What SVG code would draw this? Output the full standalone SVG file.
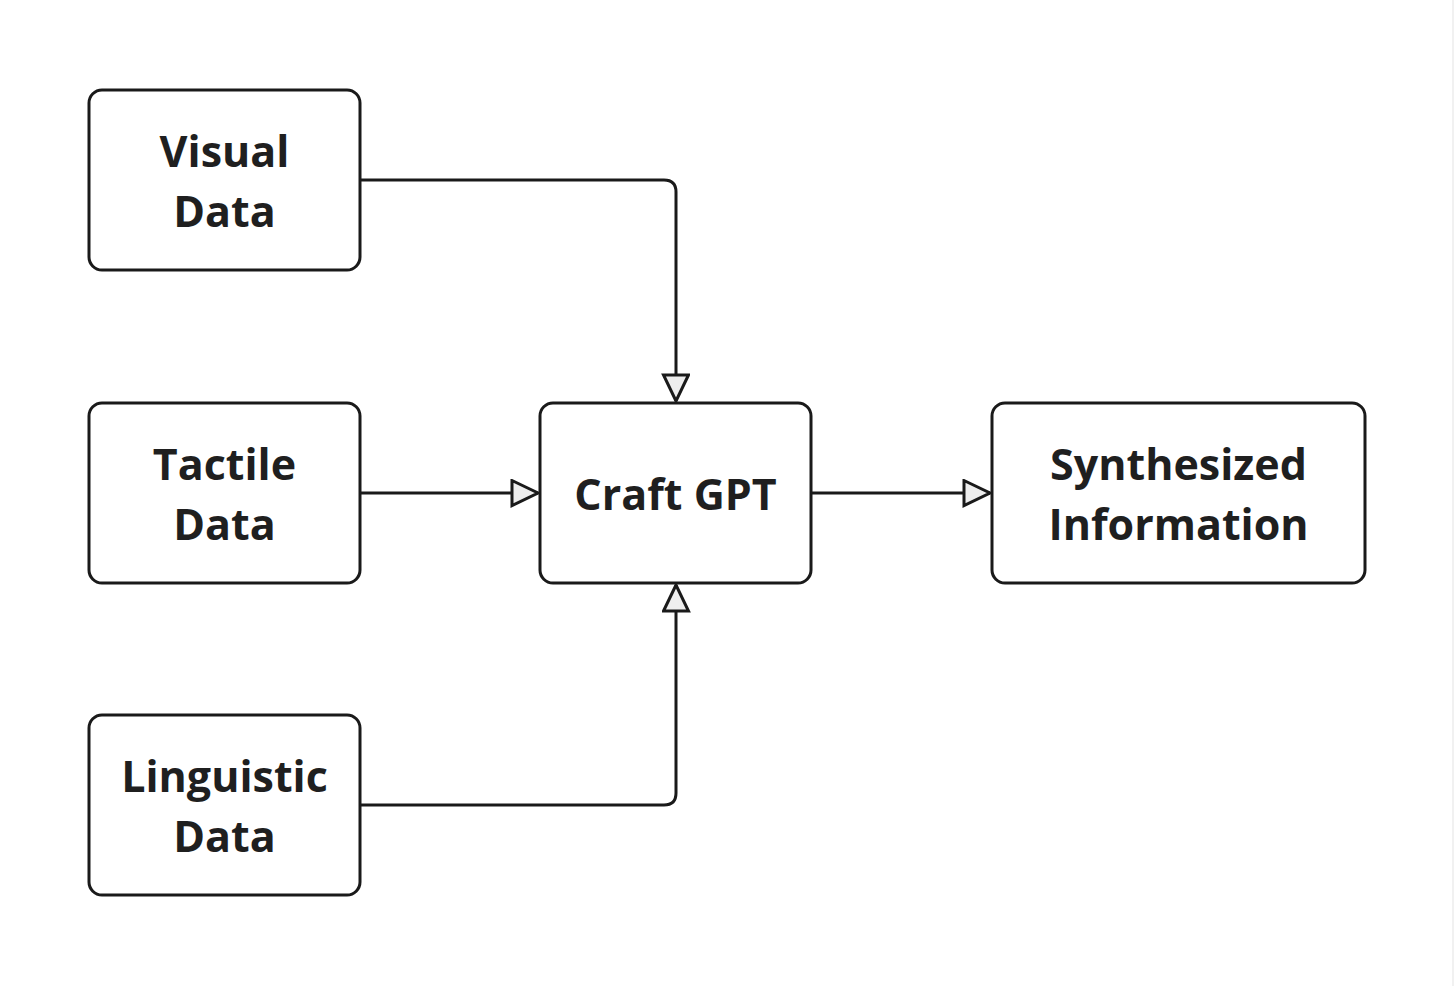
<svg xmlns="http://www.w3.org/2000/svg" width="1456" height="986" viewBox="0 0 1456 986">
<style>
.box{fill:#fff;stroke:#1a1a1a;stroke-width:3}
.lbl{font-family:"Open Sans","Noto Sans",sans-serif;font-weight:700;font-size:43px;fill:#1f1f1f;text-anchor:middle}
.con{fill:none;stroke:#1a1a1a;stroke-width:3}
</style>
<defs>
<marker id="arr" markerWidth="32" markerHeight="32" refX="28" refY="14" orient="auto" markerUnits="userSpaceOnUse">
<path d="M2,1.5 L28,14 L2,26.5 Z" fill="#eeeeee" stroke="#1a1a1a" stroke-width="3" stroke-linejoin="miter"/>
</marker>
</defs>
<rect width="1456" height="986" fill="#fff"/>
<line x1="1453" y1="0" x2="1453" y2="986" stroke="#ececec" stroke-width="1.5"/>
<g id="connectors">
<path class="con" d="M360,180 H664 Q676,180 676,192 V401" marker-end="url(#arr)"/>
<path class="con" d="M360,493 H538" marker-end="url(#arr)"/>
<path class="con" d="M360,805 H664 Q676,805 676,793 V585" marker-end="url(#arr)"/>
<path class="con" d="M811,493 H990" marker-end="url(#arr)"/>
</g>
<g id="visual">
<rect class="box" x="89" y="90" width="271" height="180" rx="13"/>
<text class="lbl" x="224.5" y="167">Visual</text>
<text class="lbl" x="224.5" y="227">Data</text>
</g>
<g id="tactile">
<rect class="box" x="89" y="403" width="271" height="180" rx="13"/>
<text class="lbl" x="224.5" y="480">Tactile</text>
<text class="lbl" x="224.5" y="540">Data</text>
</g>
<g id="linguistic">
<rect class="box" x="89" y="715" width="271" height="180" rx="13"/>
<text class="lbl" x="224.5" y="792">Linguistic</text>
<text class="lbl" x="224.5" y="852">Data</text>
</g>
<g id="craft">
<rect class="box" x="540" y="403" width="271" height="180" rx="13"/>
<text class="lbl" x="675.5" y="510">Craft GPT</text>
</g>
<g id="synth">
<rect class="box" x="992" y="403" width="373" height="180" rx="13"/>
<text class="lbl" x="1178.5" y="480">Synthesized</text>
<text class="lbl" x="1178.5" y="540">Information</text>
</g>
</svg>
